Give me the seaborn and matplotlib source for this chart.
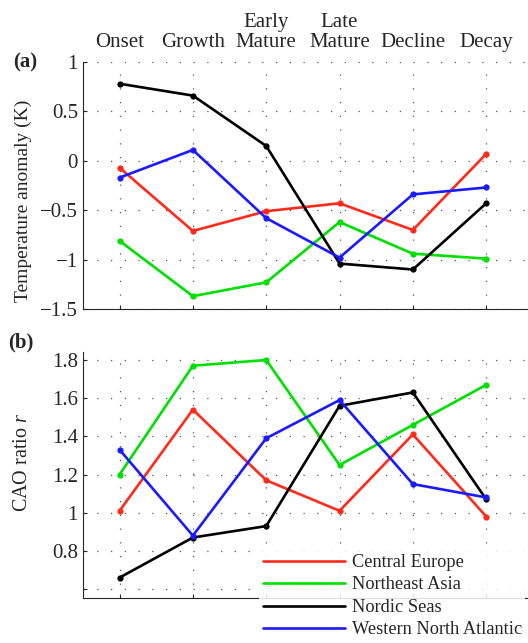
import numpy as np
import pandas as pd
import matplotlib
matplotlib.use('Agg')
import matplotlib.pyplot as plt
import seaborn as sns

stages = ['Onset', 'Growth', 'Early\nMature', 'Late\nMature', 'Decline', 'Decay']
regions = ['Central Europe', 'Northeast Asia', 'Nordic Seas', 'Western North Atlantic']

# (a) temperature anomaly (K)
temp_ce = [-0.07, -0.71, -0.51, -0.43, -0.70, 0.07]
temp_na = [-0.81, -1.37, -1.23, -0.62, -0.94, -0.99]
temp_ns = [0.78, 0.66, 0.15, -1.04, -1.10, -0.43]
temp_wna = [-0.17, 0.11, -0.58, -0.98, -0.34, -0.27]

# (b) CAO ratio r
ratio_ce = [1.01, 1.54, 1.17, 1.01, 1.41, 0.98]
ratio_na = [1.20, 1.77, 1.80, 1.25, 1.46, 1.67]
ratio_ns = [0.66, 0.87, 0.93, 1.56, 1.63, 1.07]
ratio_wna = [1.33, 0.88, 1.39, 1.59, 1.15, 1.08]

colors = {'Central Europe': '#ff2a1a', 'Northeast Asia': '#00e000',
          'Nordic Seas': '#000000', 'Western North Atlantic': '#1a1aff'}


def to_long(series):
    rows = []
    for name, vals in zip(regions, series):
        for i, v in enumerate(vals):
            rows.append({'stage': i, 'region': name, 'value': v})
    return pd.DataFrame(rows)


df_a = to_long([temp_ce, temp_na, temp_ns, temp_wna])
df_b = to_long([ratio_ce, ratio_na, ratio_ns, ratio_wna])

sns.set_style('ticks')
plt.rcParams['font.family'] = ['Liberation Serif', 'DejaVu Serif']
plt.rcParams['mathtext.fontset'] = 'custom'
plt.rcParams['mathtext.it'] = 'Liberation Serif:italic'
plt.rcParams['mathtext.rm'] = 'Liberation Serif'
fs = 15

fig = plt.figure(figsize=(5.28, 6.43), dpi=100)
ax1 = fig.add_axes([0.157, 0.5194, 0.843, 0.3842])
ax2 = fig.add_axes([0.157, 0.0705, 0.843, 0.3821])

for ax, df in [(ax1, df_a), (ax2, df_b)]:
    sns.lineplot(data=df, x='stage', y='value', hue='region', palette=colors,
                 hue_order=regions, marker='o', markersize=4.5, markeredgewidth=0,
                 linewidth=1.9, ax=ax, legend=(ax is ax2))
    ax.set_xlim(-0.5, 5.57)
    ax.set_xticks(range(len(stages)))
    ax.grid(True, color='#555555', linestyle=(0, (1, 10)), linewidth=0.9)
    ax.spines['top'].set_visible(False)
    ax.spines['right'].set_visible(False)
    ax.tick_params(direction='in', length=3, labelsize=fs, width=0.8)
    ax.set_xlabel('')

ax1.set_ylim(-1.5, 1.0)
ax1.set_yticks([-1.5, -1, -0.5, 0, 0.5, 1])
ax1.set_yticklabels(['\u22121.5', '\u22121', '\u22120.5', '0', '0.5', '1'])
ax1.xaxis.tick_top()
ax1.tick_params(axis='x', top=False, bottom=True, labeltop=True, labelbottom=False, pad=7)
ax1.set_xticklabels(stages, linespacing=1.1)
ax1.set_ylabel('Temperature anomaly (K)', fontsize=14)

ax2.set_ylim(0.555, 1.842)
ax2.set_yticks([0.6, 0.8, 1.0, 1.2, 1.4, 1.6, 1.8])
ax2.set_yticklabels(['', '0.8', '1', '1.2', '1.4', '1.6', '1.8'])
ax2.set_xticklabels([])
ax2.set_ylabel('CAO ratio $r$', fontsize=14.5)

ax1.yaxis.set_label_coords(-0.115, 0.44)
ax2.yaxis.set_label_coords(-0.115, 0.55)

fig.text(0.025, 0.895, '(a)', fontsize=fs, fontweight='bold')
fig.text(0.015, 0.46, '(b)', fontsize=fs, fontweight='bold')

leg = ax2.legend(loc='upper left', bbox_to_anchor=(0.375, 0.23), fontsize=13.2,
                 frameon=True, framealpha=0.85, edgecolor='none', fancybox=False,
                 handlelength=4.5, labelspacing=0.3, borderpad=0.2, handletextpad=0.35)
leg.get_frame().set_facecolor('white')
for line in leg.get_lines():
    line.set_marker('')
    line.set_linewidth(1.9)

fig.savefig('out.png', dpi=100)
